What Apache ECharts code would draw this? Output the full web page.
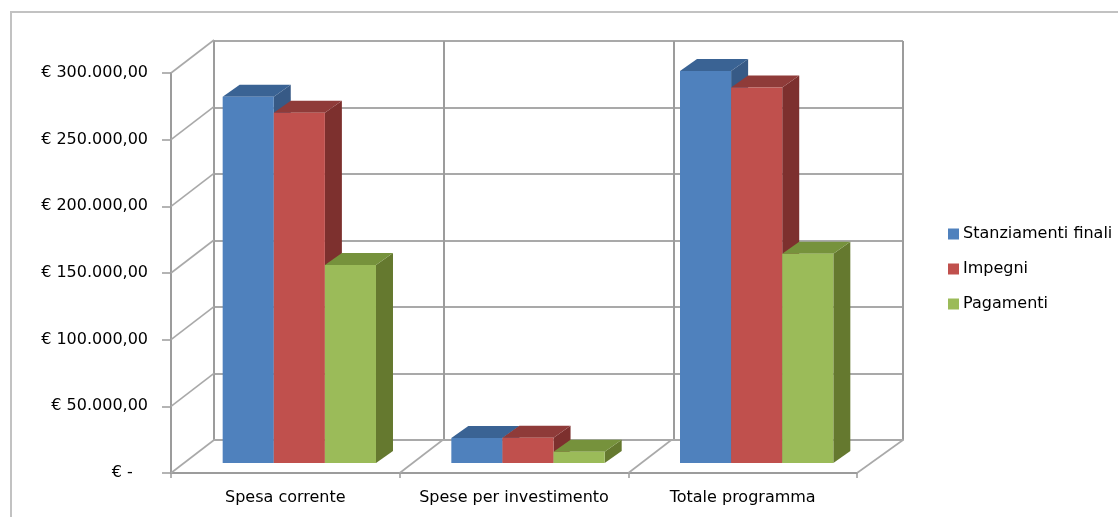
<!DOCTYPE html>
<html><head><meta charset="utf-8">
<style>html,body{margin:0;padding:0;background:#fff;overflow:hidden}#c{width:1118px;height:517px;filter:blur(0.7px)}</style>
<script src="https://cdn.jsdelivr.net/npm/echarts@6/dist/echarts.min.js"></script>
</head><body><div id="c"></div>
<script>
const categories = ['Spesa corrente', 'Spese per investimento', 'Totale programma'];
const seriesNames = ['Stanziamenti finali', 'Impegni', 'Pagamenti'];
const stanziamenti = [274700, 18700, 294000];
const impegni = [262700, 18900, 281700];
const pagamenti = [148500, 8500, 157000];
const yTicks = [0, 50000, 100000, 150000, 200000, 250000, 300000];
const yTickLabels = ['€ -   ', '€ 50.000,00', '€ 100.000,00', '€ 150.000,00', '€ 200.000,00', '€ 250.000,00', '€ 300.000,00'];
const values = [stanziamenti, impegni, pagamenti];
const faceColors = ['#4f81bd', '#c0504d', '#9bbb59'];
const topColors = ['#3a6394', '#8f3b39', '#76923c'];
const sideColors = ['#375a86', '#7d302e', '#65792f'];
const lineColor = '#a9a9a9';
const wallColor = '#9c9c9c';
const FONT = '"DejaVu Sans", sans-serif';
const WALL = {dx: 43, dy: -33};
const PLANE = {dx: 14, dy: -10};
const BAR = {dx: 17, dy: -12};

const chart = echarts.init(document.getElementById('c'), null, {renderer: 'canvas'});

function barItem(s) {
  return function (params, api) {
    const i = api.value(0), v = api.value(1);
    const base = api.coord([i, 0]);
    const w = api.size([1, 0])[0] * 0.2235;
    const h = api.size([0, v])[1];
    const x = base[0] + PLANE.dx + (s - 1.5) * w;
    const y1 = base[1] + PLANE.dy, y0 = y1 - h;
    const poly = (pts, fill) => ({type: 'polygon', shape: {points: pts}, style: {fill: fill}});
    return {type: 'group', children: [
      poly([[x + w, y0], [x + w + BAR.dx, y0 + BAR.dy], [x + w + BAR.dx, y1 + BAR.dy], [x + w, y1]], sideColors[s]),
      poly([[x, y0], [x + BAR.dx, y0 + BAR.dy], [x + w + BAR.dx, y0 + BAR.dy], [x + w, y0]], topColors[s]),
      poly([[x, y0], [x + w, y0], [x + w, y1], [x, y1]], faceColors[s])
    ]};
  };
}

const barSeries = seriesNames.map((name, s) => ({
  type: 'custom', name: name, xAxisIndex: 0, yAxisIndex: 0, z: 5 + s,
  itemStyle: {color: faceColors[s]},
  encode: {x: 0, y: 1},
  renderItem: barItem(s),
  data: values[s].map((v, i) => [i, v]),
  clip: false
}));

const wallLines = {
  type: 'custom', xAxisIndex: 0, yAxisIndex: 0, z: 3, silent: true, clip: false,
  renderItem: (params, api) => {
    const p = api.coord([0, api.value(0)]);
    const halfBand = api.size([1, 0])[0] / 2;
    const x = p[0] - halfBand;
    return {type: 'line', shape: {x1: x, y1: p[1], x2: x + WALL.dx, y2: p[1] + WALL.dy},
      style: {stroke: lineColor, lineWidth: 1.6}};
  },
  data: yTicks.map(t => [t]),
  encode: {y: 0}
};
const floorLines = {
  type: 'custom', xAxisIndex: 0, yAxisIndex: 0, z: 3, silent: true, clip: false,
  renderItem: (params, api) => {
    const b = api.value(0);
    const band = api.size([1, 0])[0];
    const p = api.coord([0, 0]);
    const x = p[0] - band / 2 + b * band;
    return {type: 'line', shape: {x1: x, y1: p[1], x2: x + WALL.dx + (b === 3 ? 3 : 0), y2: p[1] + WALL.dy},
      style: {stroke: lineColor, lineWidth: 1.6}};
  },
  data: [[1], [2], [3]],
  encode: {x: 0}
};

chart.setOption({
  animation: false,
  backgroundColor: '#fff',
  graphic: [{type: 'rect', shape: {x: 11, y: 12, width: 1300, height: 800},
    style: {fill: 'none', stroke: '#c2c2c2', lineWidth: 2}, silent: true, z: 0}],
  legend: {
    show: true, orient: 'vertical', left: 948, top: 226, padding: 0, itemWidth: 11, itemHeight: 11, itemGap: 19,
    data: seriesNames, selectedMode: false, icon: 'rect',
    textStyle: {fontFamily: FONT, fontSize: 16, color: '#000', padding: [0, 0, 0, -1]}
  },
  grid: [
    {left: 171, top: 73, width: 686, height: 400},
    {left: 214, top: 41, width: 689, height: 399}
  ],
  xAxis: [
    {type: 'category', gridIndex: 0, data: categories,
     axisLine: {lineStyle: {color: wallColor, width: 2}},
     axisTick: {show: true, interval: 0, length: 5, lineStyle: {color: wallColor, width: 1.5}},
     axisLabel: {fontFamily: FONT, fontSize: 16, color: '#000', margin: 17, interval: 0, hideOverlap: false},
     splitLine: {show: false}},
    {type: 'category', gridIndex: 1, data: categories,
     axisLine: {show: true, lineStyle: {color: lineColor, width: 2}},
     axisTick: {show: false}, axisLabel: {show: false},
     splitLine: {show: true, interval: 0, lineStyle: {color: wallColor, width: 2}}}
  ],
  yAxis: [
    {type: 'value', gridIndex: 0, min: 0, max: 300000, interval: 50000,
     axisLine: {show: true, lineStyle: {color: wallColor, width: 2}},
     axisTick: {show: true, length: 9, lineStyle: {color: wallColor, width: 1.5}},
     axisLabel: {fontFamily: FONT, fontSize: 16, color: '#000', margin: 23,
       formatter: v => yTickLabels[yTicks.indexOf(v)]},
     splitLine: {show: false}},
    {type: 'value', gridIndex: 1, min: 0, max: 300000, interval: 50000,
     axisLine: {show: true, lineStyle: {color: wallColor, width: 2}},
     axisTick: {show: false}, axisLabel: {show: false},
     splitLine: {show: true, lineStyle: {color: lineColor, width: 2}}}
  ],
  series: [wallLines, floorLines].concat(barSeries)
});
</script></body></html>
